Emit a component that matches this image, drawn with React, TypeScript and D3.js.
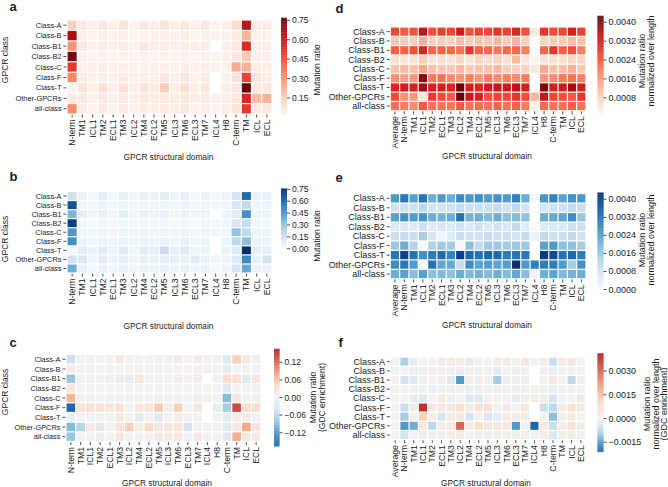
import React from "react";
import * as d3 from "d3";

const rowLabels = ["Class-A", "Class-B", "Class-B1", "Class-B2", "Class-C", "Class-F", "Class-T", "Other-GPCRs", "all-class"];
const domainsABC = ["N-term", "TM1", "ICL1", "TM2", "ECL1", "TM3", "ICL2", "TM4", "ECL2", "TM5", "ICL3", "TM6", "ECL3", "TM7", "ICL4", "H8", "C-term", "TM", "ICL", "ECL"];
const domainsDEF = ["Average", "N-term", "TM1", "ICL1", "TM2", "ECL1", "TM3", "ICL2", "TM4", "ECL2", "TM5", "ICL3", "TM6", "ECL3", "TM7", "ICL4", "H8", "C-term", "TM", "ICL", "ECL"];

type Cell = number | null;

// a: mutation ratio (TCGA)
const panelA: Cell[][] = [
  [0.15, 0.07, 0.04, 0.08, 0.04, 0.09, 0.04, 0.07, 0.05, 0.09, 0.05, 0.08, 0.04, 0.07, 0.03, 0.05, 0.11, 0.62, 0.05, 0.06],
  [0.66, 0.04, 0.03, 0.05, 0.03, 0.05, 0.03, 0.04, 0.04, 0.05, 0.03, 0.05, 0.03, 0.04, 0.03, 0.04, 0.07, 0.22, 0.04, 0.05],
  [0.30, 0.07, 0.04, 0.06, 0.04, 0.06, 0.04, 0.08, 0.05, 0.06, 0.04, 0.06, 0.05, 0.06, null, 0.05, 0.07, 0.54, 0.05, 0.05],
  [0.74, 0.04, 0.03, 0.04, 0.03, 0.04, 0.03, 0.04, 0.03, 0.04, 0.03, 0.04, 0.03, 0.04, 0.03, 0.04, 0.08, 0.17, 0.04, 0.04],
  [0.50, 0.04, 0.04, 0.05, 0.04, 0.05, 0.04, 0.05, 0.04, 0.05, 0.04, 0.05, 0.04, 0.05, 0.04, 0.04, 0.25, 0.23, 0.05, 0.05],
  [0.33, 0.06, 0.04, 0.06, 0.04, 0.07, 0.04, 0.05, 0.05, 0.08, 0.04, 0.08, 0.04, 0.06, null, 0.04, 0.09, 0.48, 0.07, 0.06],
  [0.02, 0.09, 0.05, 0.10, 0.05, 0.10, 0.05, 0.09, 0.06, 0.16, 0.06, 0.10, 0.05, 0.07, null, 0.06, 0.07, 0.77, 0.07, 0.08],
  [0.07, 0.07, 0.04, 0.07, 0.04, 0.07, 0.05, 0.07, 0.06, 0.07, 0.06, 0.07, 0.06, 0.06, 0.04, 0.05, 0.08, 0.55, 0.20, 0.23],
  [0.32, 0.06, 0.04, 0.07, 0.04, 0.07, 0.04, 0.06, 0.05, 0.07, 0.05, 0.07, 0.04, 0.06, 0.03, 0.05, 0.09, 0.50, 0.06, 0.07],
];

// b: mutation ratio (GDC)
const panelB: Cell[][] = [
  [0.15, 0.06, 0.03, 0.08, 0.03, 0.07, 0.03, 0.07, 0.05, 0.08, 0.04, 0.07, 0.03, 0.05, 0.02, 0.04, 0.13, 0.58, 0.05, 0.06],
  [0.66, 0.03, 0.02, 0.04, 0.02, 0.04, 0.02, 0.03, 0.03, 0.04, 0.02, 0.04, 0.02, 0.03, 0.02, 0.03, 0.11, 0.19, 0.03, 0.04],
  [0.35, 0.08, 0.03, 0.06, 0.03, 0.07, 0.03, 0.06, 0.04, 0.06, 0.03, 0.05, 0.04, 0.04, null, 0.04, 0.10, 0.48, 0.05, 0.04],
  [0.72, 0.03, 0.02, 0.03, 0.02, 0.03, 0.02, 0.03, 0.02, 0.03, 0.02, 0.03, 0.02, 0.03, 0.02, 0.03, 0.12, 0.18, 0.03, 0.03],
  [0.45, 0.03, 0.03, 0.04, 0.03, 0.04, 0.03, 0.04, 0.03, 0.04, 0.03, 0.04, 0.03, 0.04, 0.03, 0.03, 0.30, 0.20, 0.04, 0.04],
  [0.48, 0.04, 0.03, 0.04, 0.03, 0.05, 0.03, 0.04, 0.04, 0.05, 0.03, 0.06, 0.03, 0.04, null, 0.04, 0.20, 0.32, 0.05, 0.04],
  [0.01, 0.08, 0.04, 0.09, 0.04, 0.09, 0.04, 0.09, 0.07, 0.17, 0.06, 0.10, 0.04, 0.05, null, 0.06, 0.09, 0.76, 0.07, 0.07],
  [0.14, 0.12, 0.03, 0.09, 0.04, 0.07, 0.04, 0.07, 0.06, 0.07, 0.06, 0.06, 0.09, 0.05, 0.04, 0.05, 0.10, 0.50, 0.06, 0.14],
  [0.38, 0.06, 0.03, 0.06, 0.03, 0.06, 0.03, 0.06, 0.05, 0.06, 0.04, 0.06, 0.04, 0.05, 0.02, 0.04, 0.13, 0.40, 0.05, 0.05],
];

// c: GDC enrichment
const panelC: Cell[][] = [
  [-0.045, 0, 0, 0, 0, 0.02, 0, 0, 0, 0, 0, 0.015, 0, 0.015, 0, 0, -0.025, 0.05, 0.015, 0],
  [0.015, 0, 0, 0, 0, 0, 0, 0, 0, 0, 0, 0, 0, 0, 0, 0, -0.015, 0, 0, 0],
  [-0.08, 0, 0, 0, 0.01, -0.015, -0.015, 0.025, 0, 0, 0, 0.015, 0, 0.015, null, 0, 0.04, 0.035, -0.02, 0.02],
  [0.02, 0, 0, 0, 0, 0, 0, 0, 0, 0, 0, 0, 0, 0, 0, 0, -0.025, 0, 0, 0],
  [0.07, 0, 0, 0, 0, 0, 0, 0, 0, 0.01, 0, 0, 0, 0.01, 0, 0, -0.09, 0.02, 0, 0],
  [-0.166, 0.03, 0.03, 0.03, 0.025, 0.03, 0, 0.02, 0.025, 0.055, 0.01, 0.05, 0, 0.02, null, -0.015, -0.07, 0.14, 0.035, 0.035],
  [-0.01, 0, 0, 0, 0, 0.02, 0, -0.02, 0, -0.025, 0, 0.01, 0, 0, null, 0, -0.02, 0.01, 0.01, 0],
  [-0.09, -0.06, 0.015, -0.025, 0, 0.025, 0.05, 0.01, 0.04, 0.02, 0.025, 0.025, -0.04, 0, 0, 0, -0.025, 0.015, 0.08, 0.02],
  [-0.08, 0, 0, 0.01, 0, 0.02, 0, 0, 0, 0.015, 0.01, 0.015, 0, 0.015, 0, 0, -0.025, 0.075, 0.015, 0.015],
];

// d: normalized over length (TCGA)
const panelD: Cell[][] = [
  [0.00260, 0.00240, 0.00250, 0.00340, 0.00250, 0.00270, 0.00260, 0.00320, 0.00250, 0.00265, 0.00260, 0.00285, 0.00265, 0.00305, 0.00255, 0.00045, 0.00280, 0.00255, 0.00260, 0.00315, 0.00270],
  [0.00100, 0.00095, 0.00090, 0.00130, 0.00085, 0.00095, 0.00090, 0.00110, 0.00095, 0.00105, 0.00100, 0.00120, 0.00095, 0.00125, 0.00090, null, 0.00085, 0.00095, 0.00095, 0.00110, 0.00105],
  [0.00235, 0.00230, 0.00250, 0.00310, 0.00225, 0.00230, 0.00220, 0.00210, 0.00285, 0.00230, 0.00220, 0.00200, 0.00220, 0.00225, 0.00195, null, 0.00225, 0.00280, 0.00235, 0.00255, 0.00195],
  [0.00060, 0.00055, 0.00050, 0.00090, 0.00055, 0.00060, 0.00055, 0.00075, 0.00055, 0.00080, 0.00060, 0.00085, 0.00060, 0.00120, 0.00050, 0.00018, 0.00055, 0.00060, 0.00060, 0.00075, 0.00080],
  [0.00110, 0.00115, 0.00110, 0.00145, 0.00110, 0.00100, 0.00100, 0.00120, 0.00095, 0.00105, 0.00105, 0.00120, 0.00090, 0.00085, 0.00085, 0.00045, 0.00140, 0.00110, 0.00110, 0.00130, 0.00100],
  [0.00170, 0.00150, 0.00160, 0.00400, 0.00200, 0.00210, 0.00180, 0.00165, 0.00195, 0.00165, 0.00195, 0.00175, 0.00195, 0.00180, 0.00200, null, 0.00160, 0.00175, 0.00200, 0.00210, 0.00195],
  [0.00305, 0.00320, 0.00315, 0.00375, 0.00310, 0.00315, 0.00305, 0.00425, 0.00320, 0.00305, 0.00320, 0.00335, 0.00330, 0.00350, 0.00315, null, 0.00410, 0.00315, 0.00325, 0.00375, 0.00320],
  [0.00255, 0.00170, 0.00160, 0.00045, 0.00275, 0.00255, 0.00240, 0.00428, 0.00330, 0.00310, 0.00250, 0.00265, 0.00260, 0.00285, 0.00255, 0.00125, 0.00335, 0.00260, 0.00255, 0.00240, 0.00280],
  [0.00210, 0.00195, 0.00180, 0.00240, 0.00210, 0.00210, 0.00200, 0.00240, 0.00210, 0.00215, 0.00210, 0.00225, 0.00210, 0.00230, 0.00195, 0.00025, 0.00220, 0.00210, 0.00210, 0.00230, 0.00210],
];

// e: normalized over length (GDC)
const panelE: Cell[][] = [
  [0.00255, 0.00310, 0.00240, 0.00315, 0.00215, 0.00255, 0.00215, 0.00280, 0.00260, 0.00270, 0.00250, 0.00270, 0.00250, 0.00295, 0.00215, 0.00015, 0.00260, 0.00295, 0.00235, 0.00265, 0.00260],
  [0.00085, 0.00090, 0.00085, 0.00115, 0.00075, 0.00085, 0.00085, 0.00105, 0.00085, 0.00090, 0.00090, 0.00107, 0.00085, 0.00110, 0.00080, null, 0.00075, 0.00085, 0.00085, 0.00105, 0.00100],
  [0.00240, 0.00270, 0.00250, 0.00265, 0.00215, 0.00205, 0.00215, 0.00320, 0.00205, 0.00215, 0.00190, 0.00215, 0.00180, 0.00185, 0.00175, null, 0.00215, 0.00225, 0.00235, 0.00275, 0.00165],
  [0.00065, 0.00060, 0.00055, 0.00090, 0.00055, 0.00065, 0.00060, 0.00085, 0.00060, 0.00085, 0.00065, 0.00085, 0.00060, 0.00107, 0.00055, 0.00005, 0.00055, 0.00065, 0.00065, 0.00085, 0.00090],
  [0.00090, 0.00100, 0.00095, 0.00150, 0.00075, 0.00020, 0.00055, 0.00090, 0.00085, 0.00085, 0.00100, 0.00090, 0.00090, 0.00075, 0.00100, 0.00030, 0.00107, 0.00090, 0.00095, 0.00107, 0.00085],
  [0.00160, 0.00215, 0.00130, 0.00000, 0.00135, 0.00160, 0.00150, 0.00010, 0.00180, 0.00107, 0.00160, 0.00160, 0.00150, 0.00160, 0.00160, null, 0.00235, 0.00255, 0.00180, 0.00175, 0.00150],
  [0.00315, 0.00400, 0.00320, 0.00270, 0.00305, 0.00330, 0.00295, 0.00400, 0.00340, 0.00320, 0.00340, 0.00335, 0.00305, 0.00315, 0.00310, null, 0.00410, 0.00385, 0.00320, 0.00335, 0.00305],
  [0.00280, 0.00310, 0.00250, 0.00005, 0.00320, 0.00230, 0.00225, 0.00100, 0.00280, 0.00235, 0.00250, 0.00235, 0.00250, 0.00430, 0.00255, 0.00300, 0.00300, 0.00300, 0.00255, 0.00150, 0.00270],
  [0.00215, 0.00240, 0.00185, 0.00240, 0.00180, 0.00190, 0.00175, 0.00215, 0.00195, 0.00205, 0.00190, 0.00215, 0.00190, 0.00225, 0.00185, 0.00020, 0.00215, 0.00235, 0.00195, 0.00205, 0.00215],
];

// f: normalized over length, GDC enrichment
const panelF: Cell[][] = [
  [0, -0.0008, -0.0002, 0, 0, 0.0003, 0.0003, 0.0003, -0.0002, 0, 0, 0.0003, 0.0003, 0, 0.0005, 0, 0.0003, -0.0006, 0.0003, 0.0005, 0],
  [0, 0, -0.00015, 0, 0, 0, 0, -0.00015, 0, 0, 0, -0.0002, 0, 0.0002, 0, null, 0, -0.00015, 0, 0, 0],
  [0, -0.0005, -0.0003, 0.0002, 0, 0.0002, -0.0003, -0.0015, 0.0003, 0.0002, 0, -0.0009, 0.0002, 0.0002, 0.0002, null, 0, 0.0004, 0, -0.0007, 0.0002],
  [0, 0, 0, 0, -0.00015, 0, 0, 0, -0.00015, -0.00015, 0, 0, 0, 0.0002, 0, 0, 0, -0.00015, 0, 0, 0],
  [0, 0, -0.0002, -0.0003, 0, 0.0004, 0.00015, 0, -0.0003, -0.0003, 0, 0, 0, -0.0002, 0.0002, 0.0002, 0.0002, -0.0005, 0, 0, -0.0002],
  [0, -0.0006, 0.0003, 0.0038, 0.0005, 0.0005, 0.0004, 0.0009, 0.0003, 0.0007, 0.0008, 0, 0.0005, 0, 0.0005, null, -0.0006, -0.0007, 0.0004, 0.0009, 0.0004],
  [0, -0.0009, 0, 0.0012, 0.0002, -0.0005, 0.0003, 0.0003, -0.0005, 0, -0.0004, -0.0002, 0.0003, 0.0002, 0.0002, null, 0, -0.0011, 0.0002, 0.0003, 0],
  [0, -0.0015, -0.0013, 0.0004, -0.0007, 0.0003, 0.0003, 0.0030, 0.0003, 0.0009, 0.0004, 0.0004, 0.0004, -0.0015, 0, -0.0021, 0.0003, -0.0006, 0.0002, 0.0008, 0.0003],
  [0, -0.0005, 0, 0.0003, 0.0002, 0.0002, 0.0002, 0.0003, 0, 0.0002, 0.0002, 0.0002, 0.0002, 0.0002, 0.0003, 0, 0.0002, -0.0004, 0.0002, 0.0003, 0.0002],
];

const ticksA = [0.15, 0.3, 0.45, 0.6, 0.75];
const ticksB = [0, 0.15, 0.3, 0.45, 0.6, 0.75];
const ticksC = [-0.12, -0.06, 0, 0.06, 0.12];
const ticksD = [0.0008, 0.0016, 0.0024, 0.0032, 0.004];
const ticksE = [0, 0.0008, 0.0016, 0.0024, 0.0032, 0.004];
const ticksF = [-0.0015, 0, 0.0015, 0.003];

const divStops = ["#2166ac", "#4393c3", "#92c5de", "#d1e5f0", "#f1f1f1", "#fddbc7", "#f4a582", "#d6604d", "#b4221f"];
const divInterp = d3.piecewise(d3.interpolateRgb, divStops);
const twoSlope = (lo: number, hi: number) => (v: number) => {
  const t = v >= 0 ? 0.5 + 0.5 * (v / hi) : 0.5 - 0.5 * (v / lo);
  return divInterp(Math.max(0, Math.min(1, t)));
};
const seqColor = (interp: (t: number) => string, lo: number, hi: number) => (v: number) =>
  interp(Math.max(0, Math.min(1, (v - lo) / (hi - lo))));

const FONT = "'Liberation Sans', Arial, Helvetica, sans-serif";
const minus = (s: string) => s.replace("-", "\u2212");

type PanelCfg = {
  letter: string; lx: number; ly: number;
  x0: number; x1: number; y0: number; y1: number;
  cols: string[]; data: Cell[][]; color: (v: number) => string;
  cbX: number; cbW: number; cbY0: number; cbY1: number; cbLo: number; cbHi: number;
  ticks: number[]; fmt: (v: number) => string;
  cbLabel: string[]; cbLx: number; cbLy: number; cbGap: number;
  yLab?: [number, number]; xLab: [number, number];
  fy: number; fx: number; fc: number; fl: number;
};

function Heatmap({ p }: { p: PanelCfg }) {
  const xs = d3.scaleBand<string>().domain(p.cols).range([p.x0, p.x1]);
  const ys = d3.scaleBand<string>().domain(rowLabels).range([p.y0, p.y1]);
  const cbScale = d3.scaleLinear().domain([p.cbLo, p.cbHi]).range([p.cbY1, p.cbY0]);
  const n = 160;
  const slices = d3.range(n).map((i) => {
    const v0 = p.cbLo + ((p.cbHi - p.cbLo) * i) / n;
    const v1 = p.cbLo + ((p.cbHi - p.cbLo) * (i + 1)) / n;
    return { v: (v0 + v1) / 2, y: cbScale(v1), h: cbScale(v0) - cbScale(v1) };
  });
  const g = 0.6;
  const bw = xs.bandwidth();
  const bh = ys.bandwidth();
  const cbR = p.cbX + p.cbW;
  return (
    <g fontFamily={FONT} fill="#1a1a1a">
      <text x={p.lx} y={p.ly} fontSize={13} fontWeight="bold">{p.letter}</text>
      {p.data.map((row, ri) =>
        row.map((v, ci) =>
          v === null ? null : (
            <rect key={`${ri}-${ci}`} x={xs(p.cols[ci])! + g} y={ys(rowLabels[ri])! + g}
              width={bw - 2 * g} height={bh - 2 * g} fill={p.color(v)} />
          )
        )
      )}
      {rowLabels.map((r) => {
        const y = ys(r)! + bh / 2;
        return (
          <g key={r}>
            <line x1={p.x0 - 3.6} x2={p.x0 - 0.6} y1={y} y2={y} stroke="#222" strokeWidth={0.8} />
            <text x={p.x0 - 5.5} y={y} fontSize={p.fy} textAnchor="end" dominantBaseline="central">{r}</text>
          </g>
        );
      })}
      {p.cols.map((c) => {
        const x = xs(c)! + bw / 2;
        return (
          <g key={c}>
            <line x1={x} x2={x} y1={p.y1 + 0.6} y2={p.y1 + 3.6} stroke="#222" strokeWidth={0.8} />
            <text transform={`translate(${x},${p.y1 + 5.5}) rotate(-90)`} fontSize={p.fx}
              textAnchor="end" dominantBaseline="central">{c}</text>
          </g>
        );
      })}
      {slices.map((s, i) => (
        <rect key={i} x={p.cbX} y={s.y} width={p.cbW} height={s.h + 0.3} fill={p.color(s.v)} />
      ))}
      {p.ticks.map((t) => {
        const y = cbScale(t);
        return (
          <g key={t}>
            <line x1={cbR} x2={cbR + 3} y1={y} y2={y} stroke="#222" strokeWidth={0.8} />
            <text x={cbR + 5} y={y} fontSize={p.fc} dominantBaseline="central">{minus(p.fmt(t))}</text>
          </g>
        );
      })}
      {p.cbLabel.map((l, i) => (
        <text key={l} transform={`translate(${p.cbLx + i * p.cbGap},${p.cbLy}) rotate(-90)`}
          fontSize={p.fl} textAnchor="middle" dominantBaseline="central">{l}</text>
      ))}
      {p.yLab && (
        <text transform={`translate(${p.yLab[0]},${p.yLab[1]}) rotate(-90)`} fontSize={p.fl}
          textAnchor="middle" dominantBaseline="central">GPCR class</text>
      )}
      <text x={p.xLab[0]} y={p.xLab[1]} fontSize={8.3} textAnchor="middle" dominantBaseline="central">
        GPCR structural domain
      </text>
    </g>
  );
}

const f2 = d3.format(".2f");
const f4 = d3.format(".4f");

const panels: PanelCfg[] = [
  {
    letter: "a", lx: 9.5, ly: 11, x0: 67, x1: 272, y0: 20, y1: 114, cols: domainsABC, data: panelA,
    color: seqColor(d3.interpolateReds, 0.02, 0.77),
    cbX: 281, cbW: 6, cbY0: 17.7, cbY1: 114.8, cbLo: 0.02, cbHi: 0.77, ticks: ticksA, fmt: f2,
    cbLabel: ["Mutation ratio"], cbLx: 317, cbLy: 70, cbGap: 9,
    yLab: [4.5, 60], xLab: [168.5, 156.5], fy: 7.4, fx: 8.6, fc: 8.5, fl: 8.5,
  },
  {
    letter: "b", lx: 9.5, ly: 181, x0: 67, x1: 272, y0: 191.5, y1: 273, cols: domainsABC, data: panelB,
    color: seqColor(d3.interpolateBlues, 0, 0.76),
    cbX: 281, cbW: 6, cbY0: 188.5, cbY1: 248.7, cbLo: 0, cbHi: 0.76, ticks: ticksB, fmt: f2,
    cbLabel: ["Mutation ratio"], cbLx: 317, cbLy: 236, cbGap: 9,
    yLab: [4.5, 239], xLab: [168.5, 325.5], fy: 7.4, fx: 8.6, fc: 8.5, fl: 8.5,
  },
  {
    letter: "c", lx: 9.5, ly: 347, x0: 66, x1: 261, y0: 354.5, y1: 441.5, cols: domainsABC, data: panelC,
    color: twoSlope(-0.166, 0.166),
    cbX: 274, cbW: 5.5, cbY0: 348.8, cbY1: 446.2, cbLo: -0.166, cbHi: 0.166, ticks: ticksC, fmt: f2,
    cbLabel: ["Mutation ratio", "(GDC enrichment)"], cbLx: 313, cbLy: 397.5, cbGap: 9,
    yLab: [4.5, 392], xLab: [167, 483], fy: 7.4, fx: 8.6, fc: 8.5, fl: 8.5,
  },
  {
    letter: "d", lx: 335.5, ly: 13.3, x0: 390.3, x1: 586, y0: 27, y1: 110.7, cols: domainsDEF, data: panelD,
    color: seqColor(d3.interpolateReds, 0.00014, 0.00428),
    cbX: 597.5, cbW: 6, cbY0: 15.7, cbY1: 113.3, cbLo: 0.00014, cbHi: 0.00428, ticks: ticksD, fmt: f4,
    cbLabel: ["Mutation ratio", "normalized over length"], cbLx: 642, cbLy: 61, cbGap: 9,
    xLab: [487, 156], fy: 9, fx: 8.7, fc: 9, fl: 9,
  },
  {
    letter: "e", lx: 335.5, ly: 182.3, x0: 390.3, x1: 586, y0: 193.6, y1: 278.8, cols: domainsDEF, data: panelE,
    color: seqColor(d3.interpolateBlues, 0, 0.0043),
    cbX: 597.5, cbW: 6, cbY0: 192.5, cbY1: 289.5, cbLo: 0, cbHi: 0.0043, ticks: ticksE, fmt: f4,
    cbLabel: ["Mutation ratio", "normalized over length"], cbLx: 642, cbLy: 240, cbGap: 9,
    xLab: [487, 325], fy: 9, fx: 8.7, fc: 9, fl: 9,
  },
  {
    letter: "f", lx: 338.5, ly: 346.7, x0: 390.5, x1: 585.5, y0: 357.1, y1: 439.6, cols: domainsDEF, data: panelF,
    color: twoSlope(-0.0021, 0.00412),
    cbX: 597.5, cbW: 6, cbY0: 353.3, cbY1: 451.8, cbLo: -0.0021, cbHi: 0.00412, ticks: ticksF, fmt: f4,
    cbLabel: ["Mutation ratio", "normalized over length", "(GDC enrichment)"], cbLx: 647, cbLy: 404, cbGap: 8.7,
    xLab: [486, 483], fy: 9, fx: 8.7, fc: 9, fl: 9,
  },
];

export default function App() {
  return (
    <svg width={668} height={487} style={{ position: "absolute", left: 0, top: 0, background: "#fff" }}>
      <rect width={668} height={487} fill="#fff" />
      {panels.map((p) => (
        <Heatmap key={p.letter} p={p} />
      ))}
    </svg>
  );
}
